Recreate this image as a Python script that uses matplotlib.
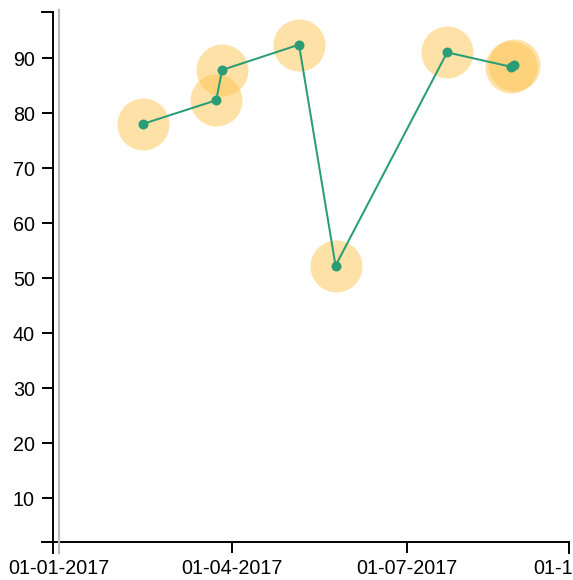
import numpy as np
import pandas as pd
import matplotlib
matplotlib.use('Agg')
import matplotlib.pyplot as plt
import matplotlib.dates as mdates
import matplotlib.transforms as mtrans

# data
dates = ['2017-02-14', '2017-03-24', '2017-03-27', '2017-05-06',
         '2017-05-25', '2017-07-22', '2017-08-24', '2017-08-26']
values = [78.1, 82.4, 87.9, 92.5, 52.3, 91.1, 88.5, 88.8]
tick_dates = ['2017-01-01', '2017-04-01', '2017-07-01']
y_ticks = [10, 20, 30, 40, 50, 60, 70, 80, 90]

x_start, x_end = '2016-12-29 07:00', '2017-09-23 12:00'
y_min, y_max = 2.1, 98.5

plt.rcParams['font.family'] = ['Liberation Sans', 'DejaVu Sans']

W, H = 573, 580
fig = plt.figure(figsize=(W/100, H/100), dpi=100)
ax = fig.add_axes([53.3/W, (H-541.7)/H, (569.3-53.3)/W, (541.7-11.7)/H])

# marker sizes: halo radius ~26px, dot radius ~5px
px = 72 / 100
d = pd.to_datetime(dates)
ax.scatter(d, values, s=(2*26*px)**2, color='#fec44f',
           alpha=0.5, linewidths=0, zorder=2)
ax.plot(d, values, color='#2a9d76', lw=1.45, zorder=3)
ax.scatter(d, values, s=(2*5*px)**2, color='#2a9d76', linewidths=0, zorder=4)

ax.set_xlim(pd.Timestamp(x_start), pd.Timestamp(x_end))
ax.set_ylim(y_min, y_max)

ax.set_xticks(pd.to_datetime(tick_dates))
ax.xaxis.set_major_formatter(mdates.DateFormatter('%d-%m-%Y'))
ax.set_yticks(y_ticks)
ax.tick_params(axis='both', length=8.2, width=1.4, labelsize=14.2, color='black')
ax.tick_params(axis='x', pad=4)
ax.tick_params(axis='y', pad=5)

for s in ['top', 'right']:
    ax.spines[s].set_visible(False)
for s in ['left', 'bottom']:
    ax.spines[s].set_linewidth(1.4)

# outer ticks at axis ends
tl = 8.2 / 72 * 100
ax.plot([0, 0], [0, -tl/ (541.7-11.7)], transform=ax.transAxes, color='black',
        lw=1.4, clip_on=False)
ax.plot([1, 1], [0, -tl/ (541.7-11.7)], transform=ax.transAxes, color='black',
        lw=1.4, clip_on=False)
ax.plot([0, -tl/(569.3-53.3)], [1, 1], transform=ax.transAxes, color='black',
        lw=1.4, clip_on=False)
ax.plot([0, -tl/(569.3-53.3)], [0, 0], transform=ax.transAxes, color='black',
        lw=1.4, clip_on=False)

# grey reference line at the start of the year
tr = mtrans.blended_transform_factory(ax.transData, ax.transAxes)
x0 = mdates.date2num(pd.Timestamp('2017-01-01'))
ax.plot([x0, x0], [1 + 1.7/530, -11/530], transform=tr, color='#bbbbbb',
        lw=1.6, clip_on=False, zorder=5)

# next quarter label, cut off by the figure edge like in the source
ax.annotate(pd.Timestamp('2017-10-01').strftime('%d-%m-%Y'),
            xy=(mdates.date2num(pd.Timestamp('2017-10-01')), 0), xycoords=tr,
            xytext=(0, -tl - 4*100/72), textcoords='offset pixels',
            ha='center', va='top', fontsize=14.2, annotation_clip=False)

fig.savefig('out.png', dpi=100)
